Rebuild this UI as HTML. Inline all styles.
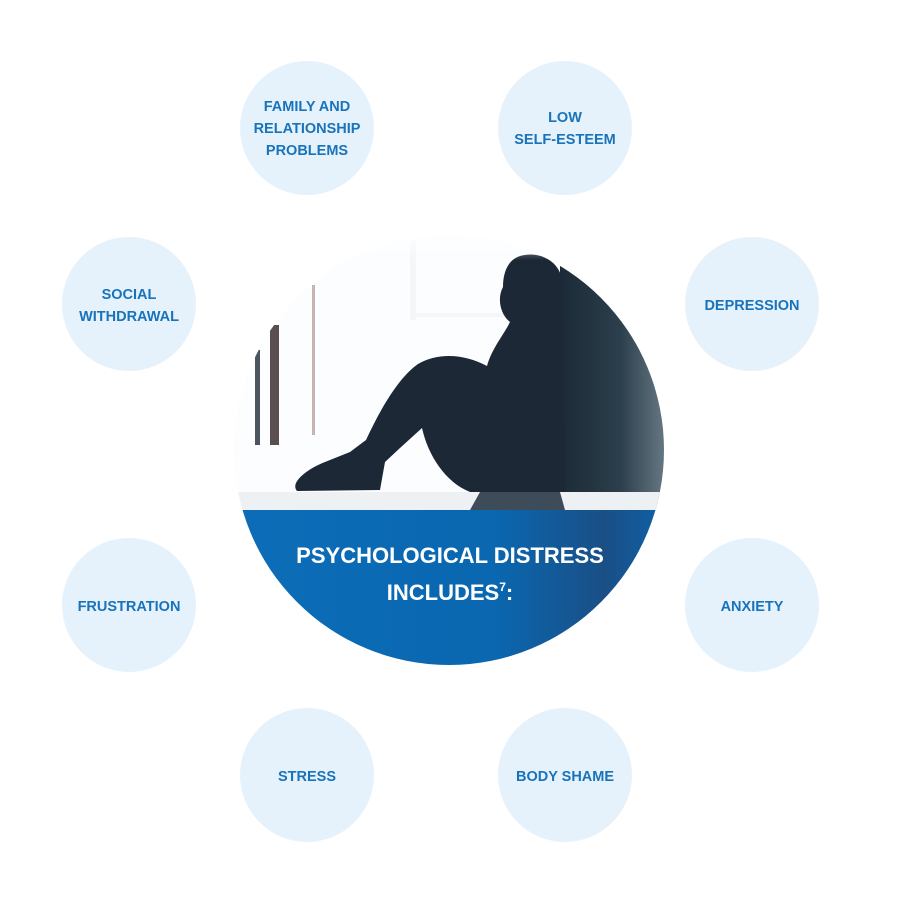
<!DOCTYPE html>
<html><head><meta charset="utf-8"><style>
body{margin:0;background:#fff;width:897px;height:900px;overflow:hidden}
svg{display:block}
.t{font-family:"Liberation Sans",Arial,sans-serif;font-weight:bold;fill:#1873bb;font-size:14.5px;text-anchor:middle}
</style></head><body>
<svg width="897" height="900" viewBox="0 0 897 900">
<defs>
<clipPath id="c"><circle cx="449" cy="450" r="215"/></clipPath>
<linearGradient id="fade" x1="0" y1="0" x2="0" y2="1">
<stop offset="0" stop-color="#fff" stop-opacity="1"/><stop offset="0.1" stop-color="#fff" stop-opacity="0"/></linearGradient>
<linearGradient id="wall" x1="0" y1="0" x2="1" y2="0">
<stop offset="0" stop-color="#1b2a36"/><stop offset="0.55" stop-color="#2c3f4c"/><stop offset="1" stop-color="#6c7e8a"/></linearGradient>
<linearGradient id="blue" x1="0" y1="0" x2="1" y2="0">
<stop offset="0" stop-color="#0c6db8"/><stop offset="0.6" stop-color="#0a67b0"/><stop offset="0.85" stop-color="#1a4f86"/><stop offset="1" stop-color="#0d62aa"/></linearGradient>
</defs>
<g fill="#e6f2fb">
<circle cx="307" cy="128" r="67"/><circle cx="565" cy="128" r="67"/>
<circle cx="129" cy="304" r="67"/><circle cx="752" cy="304" r="67"/>
<circle cx="129" cy="605" r="67"/><circle cx="752" cy="605" r="67"/>
<circle cx="307" cy="775" r="67"/><circle cx="565" cy="775" r="67"/>
</g>
<g clip-path="url(#c)">
<rect x="230" y="230" width="440" height="440" fill="#fbfdff"/>
<rect x="410" y="240" width="6" height="80" fill="#f4f6f9"/>
<rect x="416" y="313" width="140" height="4" fill="#f4f6f9"/>
<rect x="255" y="350" width="5" height="95" fill="#4a5560"/>
<rect x="270" y="325" width="9" height="120" fill="#5b4e50"/>
<rect x="312" y="285" width="3" height="150" fill="#c9b4b4"/>
<rect x="560" y="250" width="110" height="260" fill="url(#wall)"/>
<path d="M520 256 C540 250 560 262 562 280 L565 492 L470 492 C445 482 428 455 422 428 L400 448 L385 462 L380 490 L297 491 C290 483 305 470 325 462 L350 452 L366 440 C380 410 398 378 418 364 C438 352 465 354 487 366 C492 348 503 336 510 322 C500 314 497 298 503 287 C503 272 508 260 520 256 Z" fill="#1c2836"/>
<rect x="235" y="492" width="430" height="18" fill="#eef1f4"/>
<path d="M480 492 L560 492 L565 510 L470 510Z" fill="#3e4c5a"/>
<rect x="230" y="510" width="440" height="170" fill="url(#blue)"/>
<rect x="230" y="230" width="440" height="300" fill="url(#fade)"/>
</g>
<g font-family="Liberation Sans,Arial,sans-serif" font-weight="bold" fill="#fff" font-size="22" text-anchor="middle">
<text x="450" y="563">PSYCHOLOGICAL DISTRESS</text>
<text x="450" y="600">INCLUDES<tspan font-size="12" dy="-9">7</tspan><tspan dy="9">:</tspan></text>
</g>
<text class="t" x="307" y="111">FAMILY AND</text>
<text class="t" x="307" y="133">RELATIONSHIP</text>
<text class="t" x="307" y="155">PROBLEMS</text>
<text class="t" x="565" y="122">LOW</text>
<text class="t" x="565" y="144">SELF-ESTEEM</text>
<text class="t" x="129" y="299">SOCIAL</text>
<text class="t" x="129" y="321">WITHDRAWAL</text>
<text class="t" x="752" y="310">DEPRESSION</text>
<text class="t" x="129" y="611">FRUSTRATION</text>
<text class="t" x="752" y="611">ANXIETY</text>
<text class="t" x="307" y="781">STRESS</text>
<text class="t" x="565" y="781">BODY SHAME</text>
</svg>
</body></html>
